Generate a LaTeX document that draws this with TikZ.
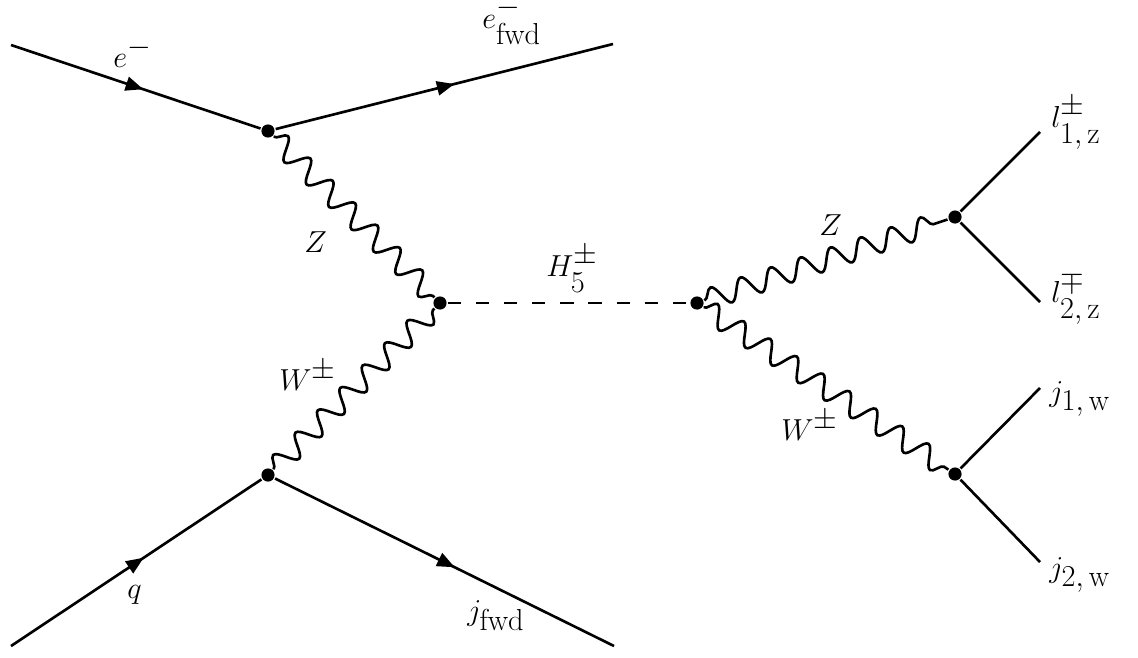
\documentclass[tikz,border=0pt]{standalone}
\usetikzlibrary{arrows.meta,decorations.pathmorphing,decorations.markings}
\newcommand{\lowsub}{\vrule height14pt width0pt}
\tikzset{
  every node/.style={font=\fontsize{16}{19}\selectfont},
  fermion/.style={postaction={decorate},decoration={markings,mark=at position .53 with {\arrow{Triangle[length=10pt,width=8pt]}}}},
  boson/.style={decorate,decoration={snake,amplitude=6pt,segment length=18pt}},
  scalar/.style={dash pattern=on 7.5pt off 8.5pt},
  vtx/.style={circle,fill,inner sep=0pt,minimum size=7.5pt},
  lab/.style={anchor=base west,inner sep=0pt}}
\begin{document}
\begin{tikzpicture}[x=.02cm,y=.02cm,line width=1.5pt]
\useasboundingbox (0,0) rectangle (1138,-657);
% vertices
\node[vtx] (v1) at (268,-131) {};\node[vtx] (v2) at (440,-303) {};\node[vtx] (v3) at (268,-475) {};
\node[vtx] (v4) at (697,-303) {};\node[vtx] (v5) at (955,-217) {};\node[vtx] (v6) at (955,-474) {};
% free ends
\coordinate (ein) at (11,-45);\coordinate (eout) at (613,-44);
\coordinate (qin) at (11,-646);\coordinate (jout) at (614,-646);
\coordinate (l1) at (1040,-132);\coordinate (l2) at (1040,-302);
\coordinate (j1) at (1040,-388);\coordinate (j2) at (1040,-562);
% lines
\draw[fermion] (ein)--(v1);\draw[fermion] (v1)--(eout);
\draw[fermion] (qin)--(v3);\draw[fermion] (v3)--(jout);
\draw[boson] (v1)--(v2);\draw[boson] (v3)--(v2);
\draw[scalar] (v2)--(v4);
\draw[boson] (v4)--(v5);\draw[boson] (v4)--(v6);
\draw (v5)--(l1);\draw (v5)--(l2);\draw (v6)--(j1);\draw (v6)--(j2);
% labels
\node[lab] (la-ein) at (112,-67) {$e^{\textstyle -}$};
\node[lab] (la-eout) at (481,-28) {$e^{\textstyle -}_{\textstyle\mathrm{fwd}\lowsub}$};
\node[lab] (la-z1) at (303,-252) {$Z$};
\node[lab] (la-w1) at (278,-390) {$W^{\textstyle\pm}$};
\node[lab] (la-h) at (545,-276) {$H^{\textstyle\pm}_{\textstyle 5\lowsub}$};
\node[lab] (la-z2) at (818,-235) {$Z$};
\node[lab] (la-w2) at (780,-440) {$W^{\textstyle\pm}$};
\node[lab] (la-q) at (126,-598) {$q$};
\node[lab] (la-jf) at (466,-620) {$j_{\textstyle\mathrm{fwd}}$};
\node[lab] (la-l1) at (1050,-127) {$l^{\textstyle\pm}_{\textstyle 1,\mathrm{z}\lowsub}$};
\node[lab] (la-l2) at (1050,-302) {$l^{\textstyle\mp}_{\textstyle 2,\mathrm{z}\lowsub}$};
\node[lab] (la-j1) at (1048,-401) {$j_{\textstyle 1,\mathrm{w}}$};
\node[lab] (la-j2) at (1048,-577) {$j_{\textstyle 2,\mathrm{w}}$};
\end{tikzpicture}
\end{document}
